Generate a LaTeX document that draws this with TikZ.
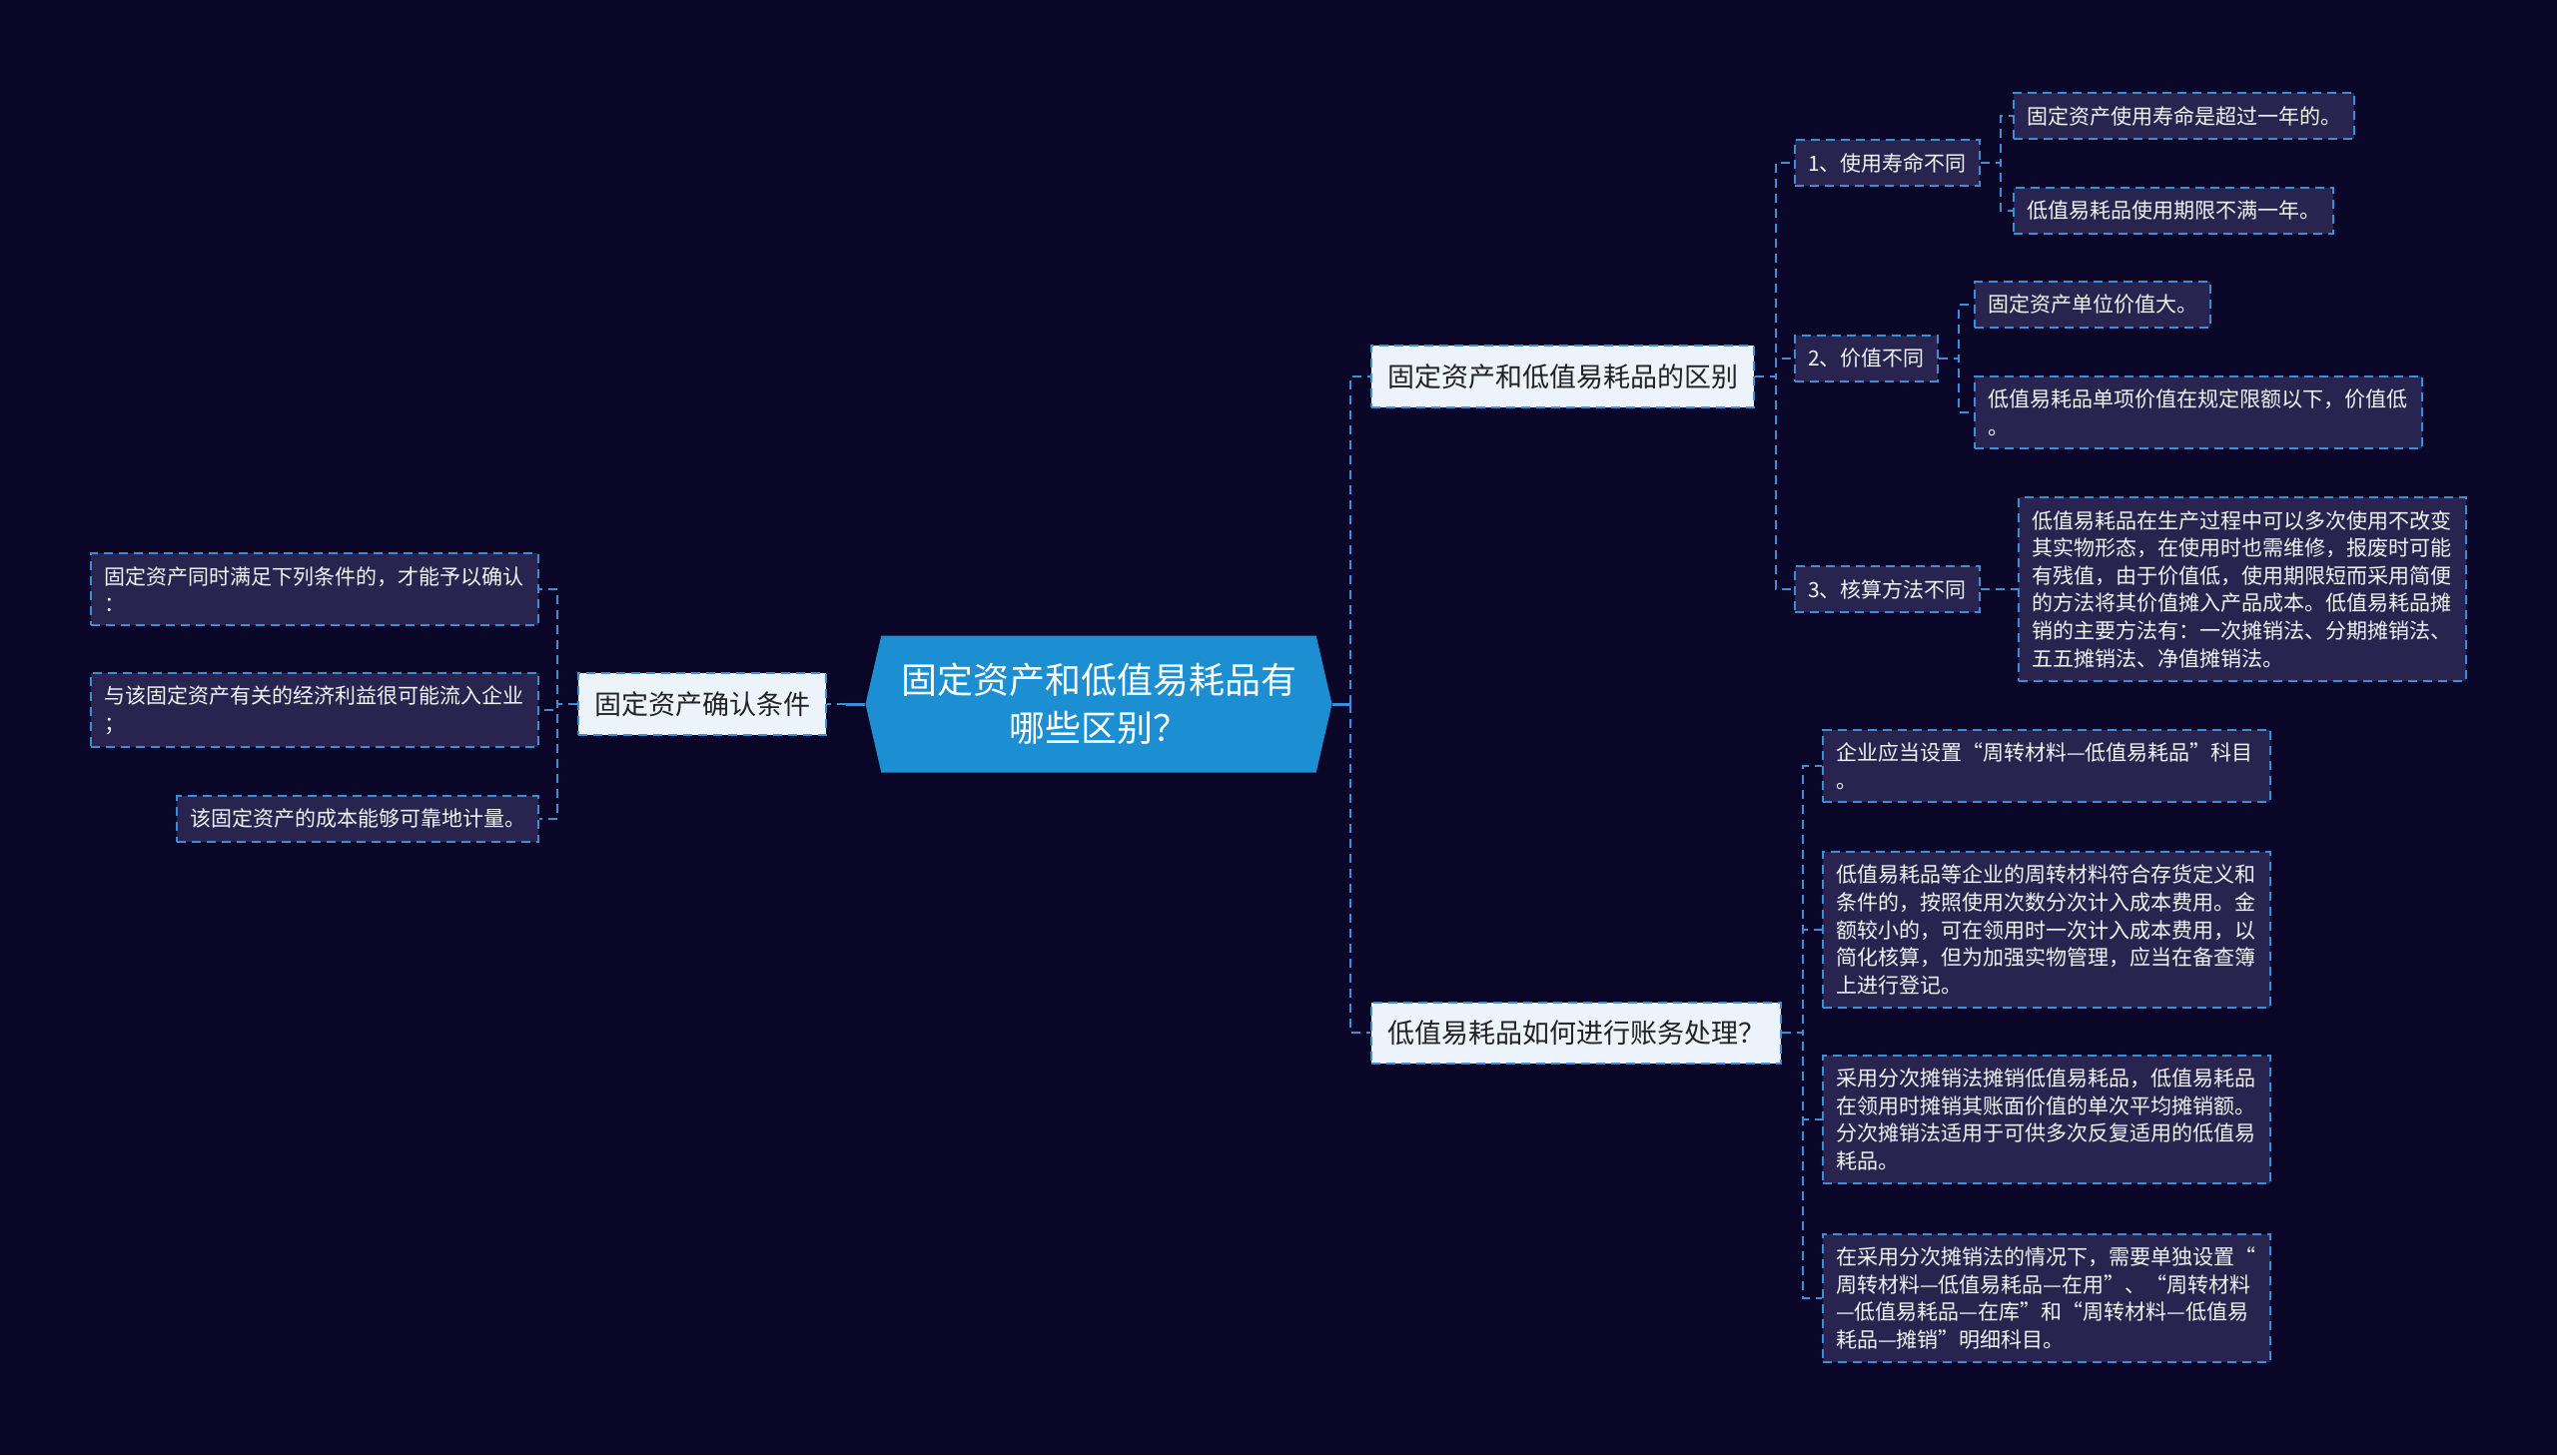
\documentclass[tikz,border=0pt]{standalone}
\usepackage{fontspec}
\setmainfont{Noto Sans CJK SC}
\usetikzlibrary{shapes.symbols}

\definecolor{bgnavy}{HTML}{0A0628}
\definecolor{leaffill}{HTML}{28244F}
\definecolor{linkblue}{HTML}{3A8FD8}
\definecolor{rootblue}{HTML}{1B8FD2}
\definecolor{branchfill}{HTML}{EDF3FB}
\definecolor{leaftext}{HTML}{F2F2F2}
\definecolor{branchtext}{HTML}{222222}

\begin{document}
\begin{tikzpicture}[x=0.5pt, y=-0.5pt,
	root/.style={shape=signal, signal to=west and east, signal pointer angle=154, fill=rootblue, text=white, align=center, font=\fontsize{18pt}{24pt}\selectfont, minimum width=233.5pt, minimum height=68.5pt, inner sep=0pt},
	branch/.style={draw=linkblue, dash pattern=on 4.5pt off 3pt, line width=1pt, fill=branchfill, text=branchtext, font=\fontsize{13.5pt}{16pt}\selectfont, inner xsep=8pt, inner ysep=9pt},
	leaf/.style={draw=linkblue, dash pattern=on 4.5pt off 3pt, line width=1pt, fill=leaffill, text=leaftext, font=\fontsize{10.5pt}{13.8pt}\selectfont, inner sep=6.5pt, align=left},
	wide/.style={leaf, text width=211pt},
	link/.style={draw=linkblue, dash pattern=on 4.5pt off 3pt, line width=1pt},
	rootlink/.style={draw=linkblue, line width=1.5pt}]

		\fill[bgnavy] (0,0) rectangle (2560,1457);

		\node[root] (root) at (1100,705) {固定资产和低值易耗品有\\哪些区别？};

		\node[branch, anchor=east] (lb) at (828,705) {固定资产确认条件};
		\node[wide, anchor=east] (l1) at (540,590) {固定资产同时满足下列条件的，才能予以确认\\：};
		\node[wide, anchor=east] (l2) at (540,711) {与该固定资产有关的经济利益很可能流入企业\\；};
		\node[leaf, anchor=east] (l3) at (540,820) {该固定资产的成本能够可靠地计量。};

		\node[branch, anchor=west] (b1) at (1372,377) {固定资产和低值易耗品的区别};
		\node[branch, anchor=west] (b2) at (1372,1034) {低值易耗品如何进行账务处理？};

		\node[leaf, anchor=west] (c1) at (1796,163) {1、使用寿命不同};
		\node[leaf, anchor=west] (c2) at (1796,359) {2、价值不同};
		\node[leaf, anchor=west] (c3) at (1796,590) {3、核算方法不同};

		\node[leaf, anchor=west] (d11) at (2015,116) {固定资产使用寿命是超过一年的。};
		\node[leaf, anchor=west] (d12) at (2015,211) {低值易耗品使用期限不满一年。};
		\node[leaf, anchor=west] (d21) at (1976,305) {固定资产单位价值大。};
		\node[wide, anchor=west] (d22) at (1976,413) {低值易耗品单项价值在规定限额以下，价值低\\。};
		\node[wide, anchor=west] (d31) at (2020,590) {低值易耗品在生产过程中可以多次使用不改变\\其实物形态，在使用时也需维修，报废时可能\\有残值，由于价值低，使用期限短而采用简便\\的方法将其价值摊入产品成本。低值易耗品摊\\销的主要方法有：一次摊销法、分期摊销法、\\五五摊销法、净值摊销法。};

		\node[wide, anchor=west] (e1) at (1824,767) {企业应当设置“周转材料—低值易耗品”科目\\。};
		\node[wide, anchor=west] (e2) at (1824,931) {低值易耗品等企业的周转材料符合存货定义和\\条件的，按照使用次数分次计入成本费用。金\\额较小的，可在领用时一次计入成本费用，以\\简化核算，但为加强实物管理，应当在备查簿\\上进行登记。};
		\node[wide, anchor=west] (e3) at (1824,1121) {采用分次摊销法摊销低值易耗品，低值易耗品\\在领用时摊销其账面价值的单次平均摊销额。\\分次摊销法适用于可供多次反复适用的低值易\\耗品。};
		\node[wide, anchor=west] (e4) at (1824,1300) {在采用分次摊销法的情况下，需要单独设置“\\周转材料—低值易耗品—在用”、“周转材料\\—低值易耗品—在库”和“周转材料—低值易\\耗品—摊销”明细科目。};

		\draw[rootlink] (root.east) -- ++(18,0) coordinate (rspine);
		\draw[link] (rspine) |- (b1.west);
		\draw[link] (rspine) |- (b2.west);
		\draw[rootlink] (root.west) -- ++(-19,0) coordinate (lspine);
		\draw[link] (lspine) -- (lb.east);

		\draw[link] (lb.west) -- ++(-20,0) |- (l1.east);
		\draw[link] (lb.west) -- ++(-20,0) |- (l2.east);
		\draw[link] (lb.west) -- ++(-20,0) |- (l3.east);

		\draw[link] (b1.east) -- ++(21,0) |- (c1.west);
		\draw[link] (b1.east) -- ++(21,0) |- (c2.west);
		\draw[link] (b1.east) -- ++(21,0) |- (c3.west);

		\draw[link] (c1.east) -- ++(20,0) |- (d11.west);
		\draw[link] (c1.east) -- ++(20,0) |- (d12.west);
		\draw[link] (c2.east) -- ++(20,0) |- (d21.west);
		\draw[link] (c2.east) -- ++(20,0) |- (d22.west);
		\draw[link] (c3.east) -- (d31.west);

		\draw[link] (b2.east) -- ++(21,0) |- (e1.west);
		\draw[link] (b2.east) -- ++(21,0) |- (e2.west);
		\draw[link] (b2.east) -- ++(21,0) |- (e3.west);
		\draw[link] (b2.east) -- ++(21,0) |- (e4.west);
\end{tikzpicture}
\end{document}
